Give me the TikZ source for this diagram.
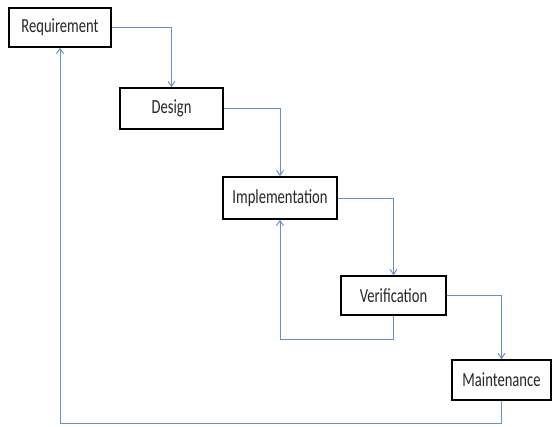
\documentclass[tikz,border=0pt]{standalone}
\usepackage{fontspec}
\setmainfont{Carlito}
\usepackage{graphicx}
\usetikzlibrary{arrows.meta}
\definecolor{linkblue}{RGB}{100,145,205}
\newcommand{\sq}[1]{\scalebox{0.73}[1]{#1}}
\tikzset{
  stagebox/.style={draw=black, line width=1.6pt, fill=white, inner sep=0pt,
    font=\fontsize{20}{24}\selectfont, text=black!85},
  flow/.style={draw=linkblue, line width=1pt, -{Straight Barb[length=5pt,width=7pt]}}
}
\begin{document}
\begin{tikzpicture}[x=1pt,y=-1pt]
\useasboundingbox (0,0) rectangle (553,426);
\node[stagebox, minimum width=102pt, minimum height=39pt] (req) at (60,27.5) {\sq{Requirement}};
\node[stagebox, minimum width=103pt, minimum height=41pt] (des) at (171.5,108.5) {\sq{Design}};
\node[stagebox, minimum width=114pt, minimum height=42pt] (imp) at (280,198) {\sq{Implementation}};
\node[stagebox, minimum width=105pt, minimum height=39pt] (ver) at (393.5,295.5) {\sq{Verification}};
\node[stagebox, minimum width=99pt, minimum height=40pt] (mai) at (501.5,380) {\sq{Maintenance}};
\draw[flow] (req.east) -| (des.north);
\draw[flow] (des.east) -| (imp.north);
\draw[flow] (imp.east) -| (ver.north);
\draw[flow] (ver.east) -| (mai.north);
\draw[flow] (ver.south) -- ++(0,24) -| (imp.south);
\draw[flow] (mai.south) -- ++(0,23) -| (req.south);
\end{tikzpicture}
\end{document}
